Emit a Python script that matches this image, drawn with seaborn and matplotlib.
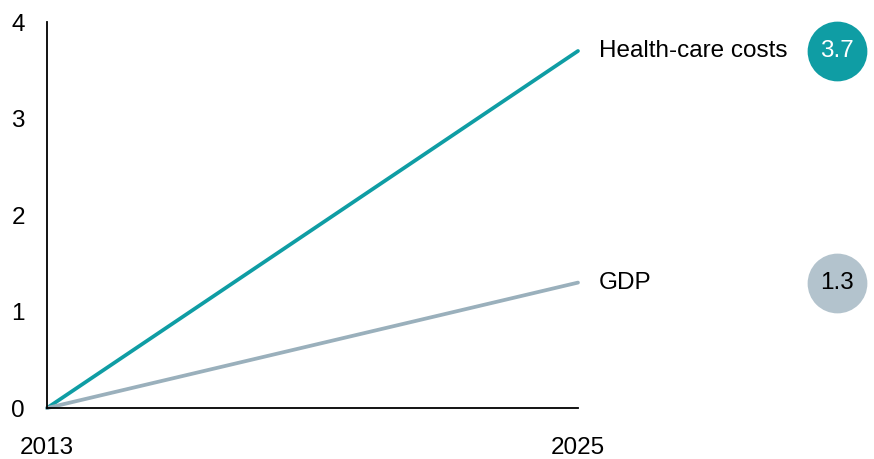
import matplotlib
matplotlib.use("Agg")
import matplotlib.pyplot as plt
import matplotlib.transforms as mtransforms
import pandas as pd
import seaborn as sns

years = [2013, 2025]
health_costs = [0, 3.7]
gdp = [0, 1.3]
series_names = ["Health-care costs", "GDP"]
end_labels = ["3.7", "1.3"]

teal = "#0f9da4"
grey_line = "#9ab0bc"
grey_dot = "#b3c3cd"

sns.set_style("white")
plt.rcParams['font.family'] = ['Liberation Sans', 'DejaVu Sans']

df = pd.DataFrame({
    "year": years * 2,
    "value": health_costs + gdp,
    "series": [series_names[0]] * 2 + [series_names[1]] * 2,
})

fig = plt.figure(figsize=(8.74, 4.59), dpi=100)
ax = fig.add_axes([0.0538, 0.111, 0.6075, 0.841])

sns.lineplot(data=df, x="year", y="value", hue="series",
             palette={series_names[0]: teal, series_names[1]: grey_line},
             linewidth=2.7, legend=False, ax=ax, clip_on=False)

ax.set_xlim(years[0], years[1])
ax.set_ylim(0, 4)
ax.set_xticks(years)
ax.set_yticks([0, 1, 2, 3, 4])
ax.set_xlabel("")
ax.set_ylabel("")
ax.tick_params(axis="y", length=0, pad=16, labelsize=17.5, colors="black")
ax.tick_params(axis="x", length=0, pad=21, labelsize=17.5, colors="black")
sns.despine(ax=ax)
for side in ["left", "bottom"]:
    ax.spines[side].set_color("black")
    ax.spines[side].set_linewidth(1.3)

trans = mtransforms.blended_transform_factory(ax.transAxes, ax.transData)
ends = [health_costs[-1], gdp[-1]]
dot_colors = [teal, grey_dot]
for name, val, lab, col in zip(series_names, ends, end_labels, dot_colors):
    ax.text(1.04, val, name, transform=trans, ha="left", va="center",
            fontsize=17.5, color="black")
    ax.scatter([1.488], [val], s=1850, color=col, transform=trans,
               clip_on=False, zorder=5, linewidths=0)
    ax.text(1.488, val, lab, transform=trans, ha="center", va="center",
            fontsize=17.5, color="white" if col == teal else "black", zorder=6)

fig.savefig("out.png", dpi=100)
